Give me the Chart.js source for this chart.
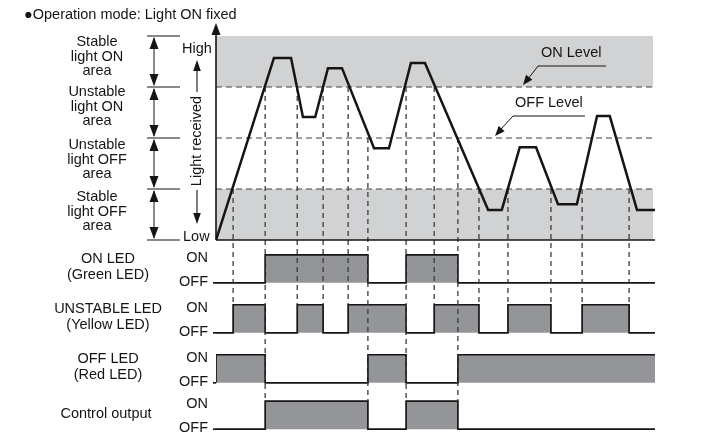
<!DOCTYPE html>
<html>
<head>
<meta charset="utf-8">
<script src="https://cdn.jsdelivr.net/npm/chart.js@4.4.0/dist/chart.umd.min.js"></script>
<style>
  html, body { margin: 0; padding: 0; background: #fff; }
  #wrap { width: 704px; height: 436px; }
</style>
</head>
<body>
<div id="wrap"><canvas id="timingChart" width="704" height="436"></canvas></div>
<script>
// light received waveform (x = time 0..100, y = level 0 Low .. 4 High)
const lightTimes  = [0, 13.2, 17.1, 19.8, 22.6, 25.5, 28.7, 36.0, 39.4, 44.4, 47.6, 62.0, 65.1, 69.2, 72.9, 77.9, 82.2, 86.8, 89.7, 95.9, 100];
const lightValues = [0, 3.57, 3.57, 2.41, 2.41, 3.37, 3.37, 1.80, 1.80, 3.47, 3.47, 0.59, 0.59, 1.82, 1.82, 0.70, 0.70, 2.43, 2.43, 0.59, 0.59];

// level boundaries: Low, stable OFF limit, OFF level, ON level, High
const levels = [0, 1, 2, 3, 4];
const areaLabels = [
    ['Stable', 'light ON', 'area'],
    ['Unstable', 'light ON', 'area'],
    ['Unstable', 'light OFF', 'area'],
    ['Stable', 'light OFF', 'area']
];

// switching instants and the level the light crosses at each one
const edgeTimes  = [0, 3.9, 11.2, 18.5, 24.4, 30.1, 34.6, 43.3, 49.7, 55.1, 59.9, 66.5, 76.3, 83.4, 94.1];
const edgeLevels = [0, 1, 3, 3, 3, 3, 2, 3, 3, 2, 1, 1, 1, 1, 1];
const endTime = 100;

// output state (1 = ON) for the interval starting at each edge
const rowNames = [['ON LED', '(Green LED)'], ['UNSTABLE LED', '(Yellow LED)'], ['OFF LED', '(Red LED)'], ['Control output']];
const onLed       = [0, 0, 1, 1, 1, 1, 0, 1, 1, 0, 0, 0, 0, 0, 0];
const unstableLed = [0, 1, 0, 1, 0, 1, 1, 0, 1, 1, 0, 1, 0, 1, 0];
const offLed      = [1, 1, 0, 0, 0, 0, 1, 0, 0, 1, 1, 1, 1, 1, 1];
const control     = [0, 0, 1, 1, 1, 1, 0, 1, 1, 0, 0, 0, 0, 0, 0];
const stateLabels = ['ON', 'OFF'];

const rows = [onLed, unstableLed, offLed, control];

// --------------------------------------------------------------------
// layout / style
// --------------------------------------------------------------------
const rowBase = [-0.84, -1.82, -2.80, -3.71];   // OFF line of each row, in level units
const rowHigh = 0.55;                          // ON height
const FONT = '14.5px "Liberation Sans", Arial, sans-serif';
const colors = {
    band: '#d1d2d4',
    pulse: '#939598',
    ink: '#151515',
    dash: '#404040'
};

const datasets = [];

// waveform
datasets.push({
    data: lightTimes.map((t, i) => ({ x: t, y: lightValues[i] })),
    borderColor: colors.ink,
    borderWidth: 2.5,
    pointRadius: 0,
    tension: 0,
    fill: false,
    order: 0
});

// vertical dashed guides, down to the lowest row that switches
for (let i = 1; i < edgeTimes.length; i++) {
    let last = 0;
    rows.forEach((r, k) => { if (r[i] !== r[i - 1]) last = k; });
    datasets.push({
        data: [{ x: edgeTimes[i], y: edgeLevels[i] }, { x: edgeTimes[i], y: rowBase[last] + rowHigh }],
        borderColor: '#3c3c3c',
        borderWidth: 1.3,
        borderDash: [5, 4],
        pointRadius: 0,
        fill: false,
        order: 1
    });
}

// timing rows
rows.forEach((states, k) => {
    const base = rowBase[k];
    const pts = [{ x: 0, y: base }];
    edgeTimes.forEach((t, i) => pts.push({ x: t, y: base + states[i] * rowHigh }));
    pts.push({ x: endTime, y: base + states[states.length - 1] * rowHigh });
    datasets.push({
        data: pts,
        stepped: true,
        borderColor: colors.ink,
        borderWidth: 1.7,
        backgroundColor: colors.pulse,
        fill: { value: base },
        pointRadius: 0,
        order: 2
    });
});

// ON / OFF / stable-off dashed level lines
[1, 2, 3].forEach(v => {
    datasets.push({
        data: [{ x: 0, y: levels[v] }, { x: endTime, y: levels[v] }],
        borderColor: colors.dash,
        borderWidth: 1.2,
        borderDash: [6, 4],
        pointRadius: 0,
        fill: false,
        order: 3
    });
});

function arrowHead(ctx, tx, ty, fx, fy, len, hw) {
    const a = Math.atan2(ty - fy, tx - fx);
    ctx.beginPath();
    ctx.moveTo(tx, ty);
    ctx.lineTo(tx - len * Math.cos(a) + hw * Math.sin(a), ty - len * Math.sin(a) - hw * Math.cos(a));
    ctx.lineTo(tx - len * Math.cos(a) - hw * Math.sin(a), ty - len * Math.sin(a) + hw * Math.cos(a));
    ctx.closePath();
    ctx.fill();
}

function line(ctx, x1, y1, x2, y2, w) {
    ctx.lineWidth = w;
    ctx.beginPath();
    ctx.moveTo(x1, y1);
    ctx.lineTo(x2, y2);
    ctx.stroke();
}

const bandsPlugin = {
    id: 'bands',
    beforeDatasetsDraw(chart) {
        const { ctx, scales: { x, y } } = chart;
        ctx.save();
        ctx.fillStyle = colors.band;
        [[levels[3], levels[4]], [levels[0], levels[1]]].forEach(([lo, hi]) => {
            ctx.fillRect(x.getPixelForValue(0), y.getPixelForValue(hi),
                x.getPixelForValue(endTime) - x.getPixelForValue(0) - 2,
                y.getPixelForValue(lo) - y.getPixelForValue(hi));
        });
        ctx.restore();
    }
};

const annotatePlugin = {
    id: 'annotate',
    afterDatasetsDraw(chart) {
        const { ctx, scales: { x, y } } = chart;
        const x0 = x.getPixelForValue(0);
        const yv = v => y.getPixelForValue(v);
        ctx.save();
        ctx.strokeStyle = colors.ink;
        ctx.fillStyle = colors.ink;

        // baseline + vertical axis with arrow
        line(ctx, x0, yv(0), x.getPixelForValue(endTime), yv(0), 1.6);
        line(ctx, x0, yv(0), x0, 34, 1.6);
        arrowHead(ctx, x0, 23, x0, 40, 12, 4.5);

        // brackets with double arrows
        levels.forEach(v => line(ctx, 147, yv(v), 180, yv(v), 1));
        for (let i = 0; i < levels.length - 1; i++) {
            const top = yv(levels[i + 1]), bot = yv(levels[i]);
            line(ctx, 154, top + 2, 154, bot - 2, 1);
            arrowHead(ctx, 154, top + 1, 154, bot, 12, 4.5);
            arrowHead(ctx, 154, bot - 1, 154, top, 12, 4.5);
        }

        ctx.font = FONT;
        ctx.textBaseline = 'middle';

        // area labels
        ctx.textAlign = 'center';
        const adj = [0, -1, 1, 2];
        areaLabels.forEach((lines, i) => {
            const c = yv(levels[3 - i] + 0.5) + adj[i] - 5;
            lines.forEach((s, j) => ctx.fillText(s, 97, c + (j - 1) * 14.5));
        });

        // High / Low, light received
        ctx.textAlign = 'left';
        ctx.fillText('High', 182, 49);
        ctx.fillText('Low', 183, 237);
        ctx.save();
        ctx.translate(197, 141);
        ctx.rotate(-Math.PI / 2);
        ctx.textAlign = 'center';
        ctx.fillText('Light received', 0, 0);
        ctx.restore();
        line(ctx, 197, 92, 197, 70, 1.1);
        arrowHead(ctx, 197, 60, 197, 90, 11, 3.8);
        line(ctx, 197, 190, 197, 214, 1.1);
        arrowHead(ctx, 197, 224, 197, 190, 11, 3.8);

        // title
        ctx.textAlign = 'left';
        ctx.fillText('\u25CFOperation mode: Light ON fixed', 24, 15);

        // level callouts
        ctx.fillText('ON Level', 541, 53);
        line(ctx, 606, 66, 538, 66, 1);
        line(ctx, 538, 66, 528, 79, 1);
        arrowHead(ctx, 523, yv(levels[3]) - 2, 538, 66, 10, 4);
        ctx.fillText('OFF Level', 515, 103);
        line(ctx, 585, 116, 513, 116, 1);
        line(ctx, 513, 116, 501, 129, 1);
        arrowHead(ctx, 495, yv(levels[2]) - 2, 513, 116, 10, 4);

        // row names and ON/OFF labels
        rowNames.forEach((names, k) => {
            const on = yv(rowBase[k] + rowHigh), off = yv(rowBase[k]);
            ctx.textAlign = 'center';
            if (names.length === 2) {
                ctx.fillText(names[0], 108, on + 4);
                ctx.fillText(names[1], 108, on + 20);
            } else {
                ctx.fillText(names[0], 106, (on + off) / 2 - 1);
            }
            ctx.textAlign = 'right';
            ctx.fillText(stateLabels[0], 208, on + 3);
            ctx.fillText(stateLabels[1], 208, off - 1);
            line(ctx, 213, off, x0, off, 1.7);
        });
        ctx.restore();
    }
};

new Chart(document.getElementById('timingChart'), {
    type: 'line',
    data: { datasets: datasets },
    options: {
        responsive: false,
        animation: false,
        events: [],
        layout: { padding: { left: 216, right: 49, top: 36, bottom: 0 } },
        plugins: { legend: { display: false }, tooltip: { enabled: false } },
        scales: {
            x: { type: 'linear', min: 0, max: endTime, display: false },
            y: { min: -3.843, max: 4, display: false }
        }
    },
    plugins: [bandsPlugin, annotatePlugin]
});
</script>
</body>
</html>
